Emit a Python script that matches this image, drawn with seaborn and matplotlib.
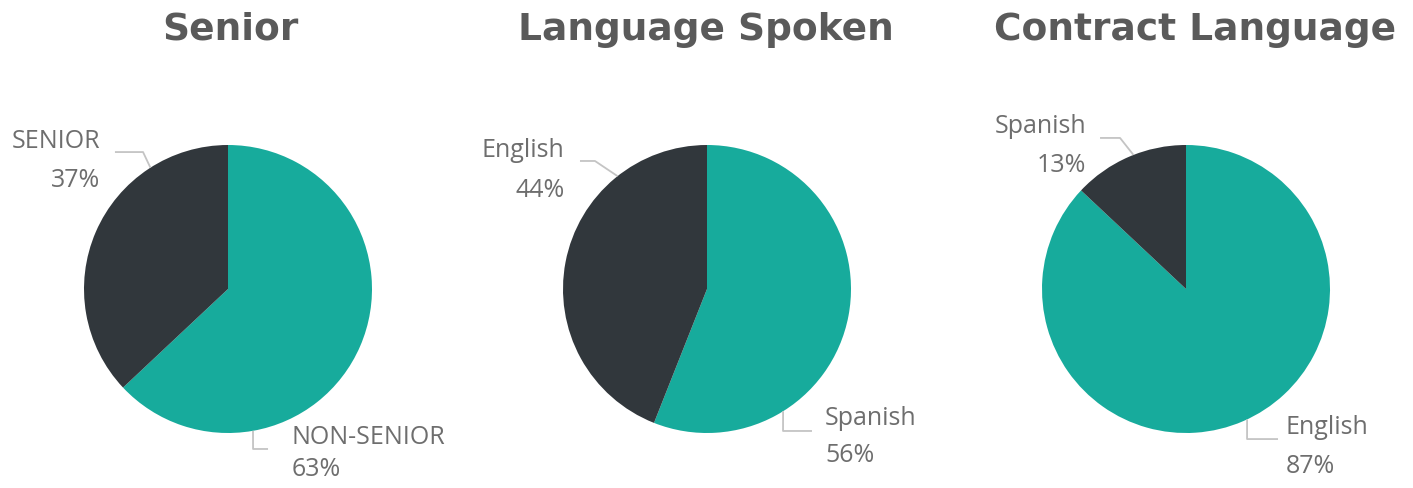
import matplotlib
matplotlib.use("Agg")
import matplotlib.pyplot as plt
import seaborn as sns
import numpy as np

# datos de las tres tartas
titles = ["Senior", "Language Spoken", "Contract Language"]
teal_labels = ["NON-SENIOR", "Spanish", "English"]
dark_labels = ["SENIOR", "English", "Spanish"]
teal_share = [63, 56, 87]
dark_share = [37, 44, 13]

sns.set_theme(style="white")
plt.rcParams['font.family'] = ['Open Sans', 'DejaVu Sans']

teal = "#17ab9c"
dark = "#31373c"
txt_col = "#6e6e6e"
line_col = "#c4c4c4"
title_col = "#5a5a5a"

W, H = 1413, 489
R = 144
centers = [228, 707, 1186]
cy = 290
title_x = [230, 706, 1195]

# colocacion de etiquetas (unidades del radio): angulo borde, codo, fin, texto
dark_lay = [(122.6, (-0.590, 0.951), -0.785, -0.889, 1.028, 0.757),
            (128.4, (-0.778, 0.889), -0.882, -0.990, 0.972, 0.694),
            (111.4, (-0.458, 1.049), -0.597, -0.694, 1.132, 0.868)]
teal_lay = [(-80.0, (0.174, -1.111), 0.278, 0.444, -1.021, -1.25),
            (-58.1, (0.528, -0.986), 0.729, 0.819, -0.889, -1.146),
            (-64.9, (0.424, -1.042), 0.639, 0.690, -0.958, -1.229)]

fig = plt.figure(figsize=(W / 100, H / 100), dpi=100)
fig.patch.set_facecolor("white")


def leader(ax, lay, label, pct, side):
    ang, (ex, ey), endx, tx, ty, py = lay
    a = np.deg2rad(ang)
    x0, y0 = np.cos(a), np.sin(a)
    ax.plot([x0, ex, endx], [y0, ey, ey], color=line_col, lw=1.3,
            clip_on=False, solid_capstyle='butt')
    ha = 'right' if side == 'left' else 'left'
    ax.text(tx, ty, label, ha=ha, va='center', fontsize=18, color=txt_col,
            clip_on=False)
    ax.text(tx, py, f"{pct}%", ha=ha, va='center', fontsize=18, color=txt_col,
            clip_on=False)


for i in range(3):
    ax = fig.add_axes([(centers[i] - R) / W, (H - cy - R) / H, 2 * R / W, 2 * R / H])
    ax.pie([teal_share[i], dark_share[i]], colors=[teal, dark], startangle=90,
           counterclock=False, wedgeprops=dict(linewidth=0))
    ax.set_xlim(-1, 1)
    ax.set_ylim(-1, 1)
    ax.set_axis_off()
    leader(ax, dark_lay[i], dark_labels[i], dark_share[i], 'left')
    leader(ax, teal_lay[i], teal_labels[i], teal_share[i], 'right')
    fig.text(title_x[i] / W, 1 - 40 / H, titles[i], ha='center', va='baseline',
             fontsize=27, fontweight='bold', color=title_col,
             family=['DejaVu Sans'])

plt.savefig("out.png", dpi=100, facecolor="white")
